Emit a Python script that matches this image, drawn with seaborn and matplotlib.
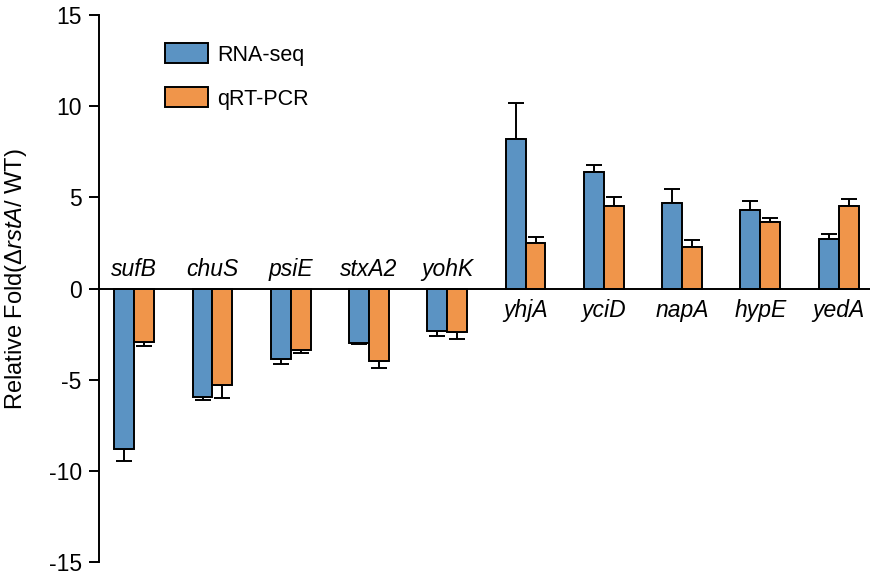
import numpy as np
import pandas as pd
import seaborn as sns
import matplotlib.pyplot as plt
from matplotlib.patches import Patch

sns.set_style('white')
plt.rcParams['font.family'] = ['Liberation Sans', 'DejaVu Sans']
plt.rcParams['mathtext.fontset'] = 'custom'
plt.rcParams['mathtext.rm'] = 'Liberation Sans'
plt.rcParams['mathtext.it'] = 'Liberation Sans:italic'
plt.rcParams['axes.unicode_minus'] = False
plt.rcParams['text.color'] = 'black'
plt.rcParams['axes.labelcolor'] = 'black'
plt.rcParams['ytick.color'] = 'black'

genes = ['sufB', 'chuS', 'psiE', 'stxA2', 'yohK', 'yhjA', 'yciD', 'napA', 'hypE', 'yedA']
rnaseq = [-8.8, -5.95, -3.85, -3.0, -2.33, 8.22, 6.37, 4.67, 4.31, 2.71]
rnaseq_err = [0.64, 0.18, 0.27, 0.05, 0.27, 1.97, 0.41, 0.79, 0.51, 0.29]
qpcr = [-2.93, -5.31, -3.35, -3.96, -2.36, 2.49, 4.51, 2.26, 3.64, 4.51]
qpcr_err = [0.21, 0.71, 0.16, 0.37, 0.38, 0.33, 0.53, 0.41, 0.25, 0.40]
methods = ['RNA-seq', 'qRT-PCR']
colors = ['#5b93c3', '#f0954a']

df = pd.DataFrame({
    'gene': genes * 2,
    'method': [methods[0]] * len(genes) + [methods[1]] * len(genes),
    'value': rnaseq + qpcr,
    'err': rnaseq_err + qpcr_err,
})

fig = plt.figure(figsize=(8.8, 5.76), dpi=100)
ax = fig.add_axes([0.1125, 0.024, 0.876, 0.95])

sns.barplot(data=df, x='gene', y='value', hue='method', palette=colors,
            saturation=1, width=0.51, gap=0, errorbar=None, edgecolor='black',
            linewidth=1.4, legend=False, ax=ax, zorder=2)

# one sided error bars, pointing away from zero
for cont, (_, sub) in zip(ax.containers, df.groupby('method', sort=False)):
    xs = [b.get_x() + b.get_width() / 2 for b in cont]
    vals = sub['value'].values
    errs = sub['err'].values
    lower = np.where(vals < 0, errs, 0)
    upper = np.where(vals > 0, errs, 0)
    ax.errorbar(xs, vals, yerr=[lower, upper], fmt='none', ecolor='black',
                elinewidth=1.4, capsize=5.5, capthick=1.4, zorder=1)

ax.axhline(0, color='black', lw=1.4, zorder=3)

for i, (g, v) in enumerate(zip(genes, rnaseq)):
    if v < 0:
        ax.text(i, 0.4, g, ha='center', va='bottom', style='italic', fontsize=16.5)
    else:
        ax.text(i, -0.55, g, ha='center', va='top', style='italic', fontsize=16.5)

ax.set_ylim(-15, 15)
ax.set_xlim(-0.45, 9.4)
ax.set_yticks([-15, -10, -5, 0, 5, 10, 15])
ax.set_xticks([])
ax.set_xlabel('')
ax.set_ylabel(r'Relative Fold(Δ$\mathit{rstA}$/ WT)', fontsize=17)
ax.yaxis.set_label_coords(-0.091, 0.518)
ax.tick_params(axis='y', direction='out', length=7, width=1.4, labelsize=16.5,
               left=True, pad=5.5)
sns.despine(ax=ax, left=False, bottom=True)
ax.spines['left'].set_linewidth(1.4)
ax.spines['left'].set_color('black')

handles = [Patch(facecolor=c, edgecolor='black', linewidth=1.4) for c in colors]
ax.legend(handles, methods, loc='upper left', bbox_to_anchor=(0.085, 0.948),
          frameon=False, fontsize=15.5, handlelength=2.0, handleheight=1.05,
          labelspacing=1.0, handletextpad=0.45, borderpad=0, borderaxespad=0)

fig.savefig('out.png', dpi=100)
